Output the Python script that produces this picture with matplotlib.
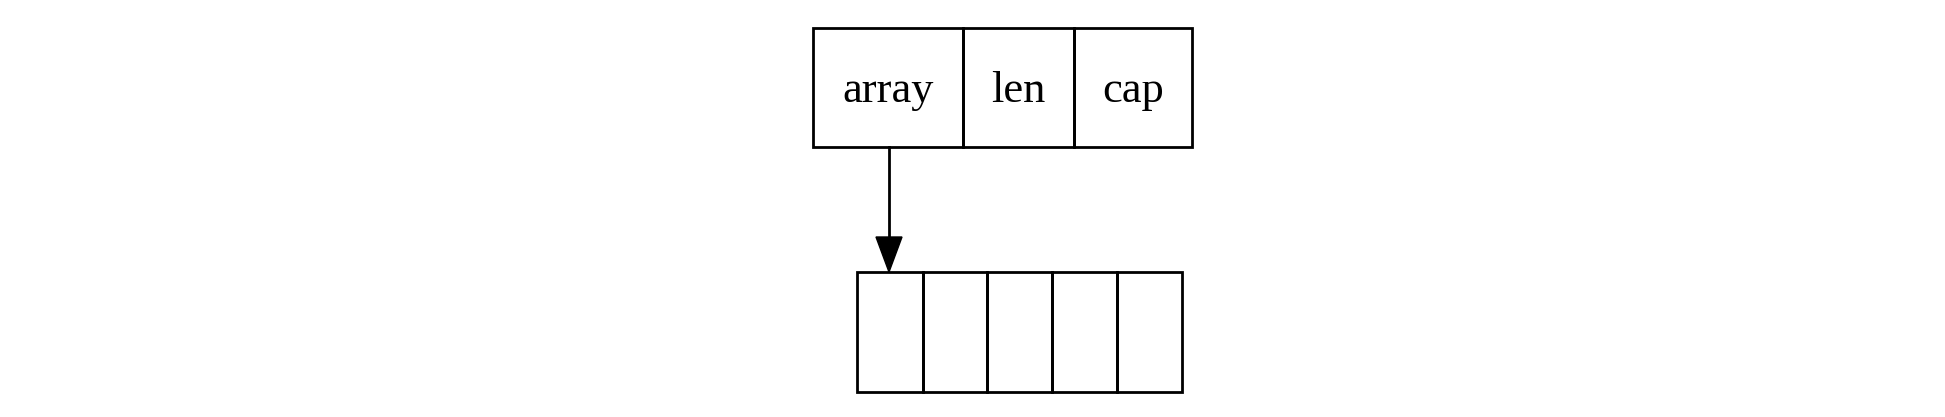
import matplotlib.pyplot as plt
from matplotlib.patches import Rectangle

# поля структуры среза (x-границы ячеек в пикселях)
fields = ['array', 'len', 'cap']
field_edges = [813, 963, 1074, 1192]
# ячейки массива
cell_edges = [857, 923, 987, 1052, 1117, 1182]

fig = plt.figure(figsize=(19.45, 4.17), dpi=100)
ax = fig.add_axes([0, 0, 1, 1])
ax.set_xlim(0, 1945)
ax.set_ylim(417, 0)
ax.axis('off')

lw = 2.0
top, bot = 28, 147
for i, name in enumerate(fields):
    x0, x1 = field_edges[i], field_edges[i + 1]
    ax.add_patch(Rectangle((x0, top), x1 - x0, bot - top, fill=False, lw=lw, ec='black'))
    ax.text((x0 + x1) / 2, (top + bot) / 2 + 3, name, ha='center', va='center',
            fontsize=32, family='Liberation Serif')

ctop, cbot = 272, 392
for i in range(len(cell_edges) - 1):
    x0, x1 = cell_edges[i], cell_edges[i + 1]
    ax.add_patch(Rectangle((x0, ctop), x1 - x0, cbot - ctop, fill=False, lw=lw, ec='black'))

# стрелка от array к первой ячейке
ax_x = 889
ax.plot([ax_x, ax_x], [bot, 240], color='black', lw=lw)
ax.fill([ax_x - 13, ax_x + 13, ax_x], [237, 237, ctop], color='black')

fig.savefig('out.png', dpi=100)
